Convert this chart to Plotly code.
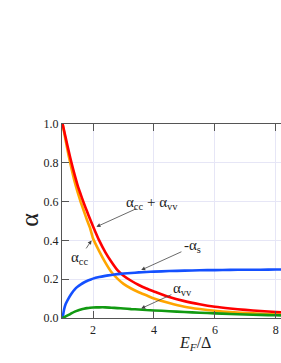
import plotly.graph_objects as go

x_vals = [1.0, 1.05, 1.1, 1.2, 1.3, 1.4, 1.5, 1.6, 1.7, 1.8, 1.9, 2.0, 2.2, 2.4, 2.6, 2.8, 3.0,
          3.25, 3.5, 3.75, 4.0, 4.5, 5.0, 5.5, 6.0, 6.5, 7.0, 7.5, 8.0, 8.5]
alpha_cc = [1.0, 0.957, 0.915, 0.835, 0.765, 0.70, 0.645, 0.595, 0.55, 0.505, 0.465, 0.41, 0.345,
            0.287, 0.237, 0.203, 0.176, 0.152, 0.133, 0.117, 0.101, 0.077, 0.058, 0.046, 0.037,
            0.031, 0.026, 0.022, 0.019, 0.016]
alpha_vv = [0.0, 0.004, 0.008, 0.016, 0.025, 0.033, 0.039, 0.044, 0.048, 0.051, 0.053, 0.054,
            0.055, 0.055, 0.053, 0.051, 0.049, 0.046, 0.044, 0.041, 0.039, 0.035, 0.031, 0.027,
            0.024, 0.021, 0.018, 0.016, 0.014, 0.012]
alpha_sum = [1.0, 0.965, 0.93, 0.86, 0.795, 0.735, 0.68, 0.635, 0.59, 0.55, 0.51, 0.472, 0.40,
             0.34, 0.29, 0.247, 0.218, 0.192, 0.17, 0.152, 0.137, 0.108, 0.087, 0.071, 0.058,
             0.049, 0.042, 0.036, 0.031, 0.027]
minus_alpha_s = [0.0, 0.045, 0.072, 0.103, 0.128, 0.148, 0.162, 0.173, 0.183, 0.191, 0.197,
                 0.203, 0.211, 0.217, 0.222, 0.226, 0.229, 0.232, 0.235, 0.237, 0.239, 0.242,
                 0.244, 0.246, 0.247, 0.248, 0.249, 0.249, 0.25, 0.25]

x_ticks = [2, 4, 6, 8]
y_ticks = [0.0, 0.2, 0.4, 0.6, 0.8, 1.0]
y_tick_labels = ["0.0", "0.2", "0.4", "0.6", "0.8", "1.0"]

series = [
    ("α<sub>cc</sub>", alpha_cc, "#ffa500"),
    ("α<sub>cc</sub> + α<sub>vv</sub>", alpha_sum, "#ff0000"),
    ("-α<sub>s</sub>", minus_alpha_s, "#1450ff"),
    ("α<sub>vv</sub>", alpha_vv, "#129a12"),
]

fig = go.Figure()
for name, vals, col in series:
    fig.add_trace(go.Scatter(x=x_vals, y=vals, mode="lines", name=name,
                             line=dict(color=col, width=2.6, shape="spline", smoothing=0.5),
                             showlegend=False))

serif = "Liberation Serif"
axis_common = dict(showline=True, linecolor="#555555", linewidth=1.2, ticks="inside",
                   ticklen=7, tickcolor="#555555", tickwidth=1.2, showgrid=True,
                   gridcolor="#e6e6f6", gridwidth=1, zeroline=False, automargin=False,
                   tickfont=dict(family=serif, size=12, color="#222222"))

fig.update_xaxes(range=[0.98, 8.17], tickvals=x_ticks, mirror="ticks", **axis_common)
fig.update_yaxes(range=[0, 1.0], tickvals=y_ticks, ticktext=y_tick_labels, mirror=False,
                 **axis_common)

ann_font = dict(family=serif, size=15, color="#222222")
# (text, head x, head y, text x, text y, tail x, tail y) in data units
arrows = [
    ("α<sub>cc</sub> + α<sub>vv</sub>", 2.11, 0.47, 3.92, 0.593, 3.47, 0.567),
    ("α<sub>cc</sub>", 1.95, 0.40, 1.57, 0.31, 1.74, 0.351),
    ("-α<sub>s</sub>", 3.58, 0.247, 5.28, 0.371, 4.95, 0.345),
    ("α<sub>vv</sub>", 3.58, 0.049, 4.95, 0.149, 4.62, 0.124),
]
for txt, hx, hy, tx, ty, sx, sy in arrows:
    fig.add_annotation(x=hx, y=hy, xref="x", yref="y", text="", showarrow=True,
                       ax=sx, ay=sy, axref="x", ayref="y", arrowhead=2,
                       arrowsize=1, arrowwidth=0.8, arrowcolor="#444444")
    fig.add_annotation(x=tx, y=ty, xref="x", yref="y", text=txt,
                       showarrow=False, font=ann_font, xanchor="center", yanchor="middle")

fig.add_annotation(x=5.35, y=-0.134, xref="x", yref="paper",
                   text="<i>E</i><sub><i>F</i></sub>/Δ",
                   showarrow=False, font=dict(family=serif, size=16, color="#222222"),
                   xanchor="center", yanchor="middle")
fig.add_annotation(x=-0.152, y=0.505, xref="paper", yref="paper", text="α", textangle=-90,
                   showarrow=False, font=dict(family=serif, size=26, color="#222222"),
                   xanchor="center", yanchor="middle")

fig.update_layout(width=281, height=363, margin=dict(l=62, r=0, t=124, b=45),
                  paper_bgcolor="white", plot_bgcolor="white")

fig.write_html("out.html", config={"displayModeBar": False},
               post_script="document.body.style.margin='0';document.body.style.overflow='hidden';")
